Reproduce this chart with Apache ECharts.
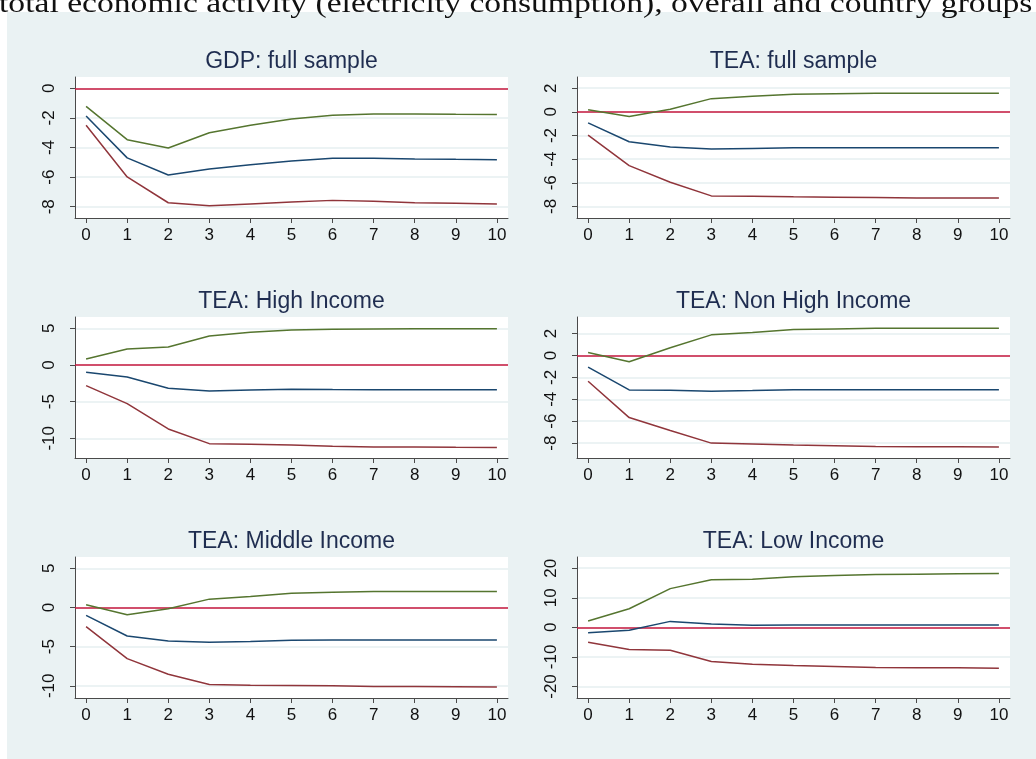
<!DOCTYPE html>
<html>
<head>
<meta charset="utf-8">
<script src="https://cdn.jsdelivr.net/npm/echarts@6/dist/echarts.min.js"></script>
<style>
  html, body { margin: 0; padding: 0; background: #fff; }
  #panel { position: absolute; left: 7px; top: 12px; right: 0; bottom: 0; background: #eaf2f3; }
  #chart { position: absolute; left: 0; top: 0; width: 1036px; height: 759px; }
</style>
</head>
<body>
<div id="panel"></div>
<div id="chart"></div>
<script>
const steps = [0, 1, 2, 3, 4, 5, 6, 7, 8, 9, 10]
const stepTicks = [0, 1, 2, 3, 4, 5, 6, 7, 8, 9, 10]

const panelTitles = ['GDP: full sample', 'TEA: full sample', 'TEA: High Income', 'TEA: Non High Income', 'TEA: Middle Income', 'TEA: Low Income']
const captionText = 'total economic activity (electricity consumption), overall and country groups'

// upper band / response / lower band per panel
const gdpFullUpper = [-1.22, -3.47, -4.03, -3.0, -2.5, -2.07, -1.82, -1.73, -1.73, -1.76, -1.78]
const gdpFullIrf = [-1.87, -4.7, -5.86, -5.45, -5.16, -4.91, -4.73, -4.73, -4.77, -4.8, -4.82]
const gdpFullLower = [-2.5, -5.99, -7.73, -7.93, -7.81, -7.68, -7.57, -7.63, -7.73, -7.77, -7.81]

const teaFullUpper = [0.17, -0.39, 0.22, 1.12, 1.32, 1.49, 1.54, 1.57, 1.57, 1.57, 1.57]
const teaFullIrf = [-0.93, -2.53, -2.98, -3.15, -3.09, -3.03, -3.03, -3.03, -3.03, -3.03, -3.03]
const teaFullLower = [-1.97, -4.55, -5.96, -7.11, -7.13, -7.19, -7.22, -7.25, -7.28, -7.28, -7.28]

const teaHighUpper = [0.82, 2.18, 2.45, 3.95, 4.45, 4.77, 4.86, 4.9, 4.95, 4.95, 4.95]
const teaHighIrf = [-1.0, -1.64, -3.18, -3.55, -3.41, -3.32, -3.36, -3.38, -3.38, -3.38, -3.38]
const teaHighLower = [-2.82, -5.27, -8.73, -10.73, -10.82, -10.91, -11.09, -11.18, -11.18, -11.23, -11.27]

const teaNonHighUpper = [0.27, -0.58, 0.7, 1.88, 2.09, 2.36, 2.42, 2.48, 2.48, 2.48, 2.48]
const teaNonHighIrf = [-1.06, -3.15, -3.18, -3.27, -3.21, -3.12, -3.12, -3.12, -3.12, -3.12, -3.12]
const teaNonHighLower = [-2.36, -5.67, -6.85, -8.0, -8.09, -8.18, -8.24, -8.3, -8.33, -8.33, -8.36]

const teaMiddleUpper = [0.34, -0.93, -0.17, 1.06, 1.4, 1.82, 1.95, 2.03, 2.03, 2.03, 2.03]
const teaMiddleIrf = [-1.02, -3.64, -4.28, -4.45, -4.36, -4.19, -4.15, -4.15, -4.15, -4.15, -4.15]
const teaMiddleLower = [-2.46, -6.53, -8.52, -9.83, -9.92, -9.96, -10.0, -10.08, -10.08, -10.13, -10.17]

const teaLowUpper = [2.13, 6.29, 13.1, 16.1, 16.3, 17.1, 17.5, 17.9, 18.0, 18.1, 18.2]
const teaLowIrf = [-1.8, -1.0, 2.02, 1.12, 0.67, 0.79, 0.79, 0.79, 0.79, 0.79, 0.79]
const teaLowLower = [-5.06, -7.53, -7.75, -11.57, -12.47, -12.92, -13.26, -13.6, -13.7, -13.7, -13.8]

const yTicks = [
  [-8, -6, -4, -2, 0],
  [-8, -6, -4, -2, 0, 2],
  [-10, -5, 0, 5],
  [-8, -6, -4, -2, 0, 2],
  [-10, -5, 0, 5],
  [-20, -10, 0, 10, 20]
]
const yRanges = [[-8.76, 0.76], [-8.98, 2.95], [-12.69, 6.54], [-9.36, 3.51], [-11.56, 6.44], [-23.9, 23.8]]
const xRange = [-0.27, 10.27]
const zeroLine = 0

const panelData = [
  [gdpFullUpper, gdpFullIrf, gdpFullLower],
  [teaFullUpper, teaFullIrf, teaFullLower],
  [teaHighUpper, teaHighIrf, teaHighLower],
  [teaNonHighUpper, teaNonHighIrf, teaNonHighLower],
  [teaMiddleUpper, teaMiddleIrf, teaMiddleLower],
  [teaLowUpper, teaLowIrf, teaLowLower]
]

const lineColors = ['#55752f', '#1a476f', '#90353b']
const font = '"Liberation Sans", Arial, Helvetica, sans-serif'

const chart = echarts.init(document.getElementById('chart'), null, { renderer: 'canvas' })

const grids = []
const xAxes = []
const yAxes = []
const series = []
const graphics = []

panelData.forEach((lines, p) => {
  const col = p % 2
  const row = Math.floor(p / 2)
  const left = col === 0 ? 75 : 577
  const top = 77 + row * 240
  grids.push({ left: left, top: top, width: 433, height: 141, show: true, backgroundColor: '#fff', borderWidth: 0 })

  xAxes.push({
    type: 'value',
    gridIndex: p,
    min: xRange[0],
    max: xRange[1],
    axisLine: { onZero: false, lineStyle: { color: '#4a4a4a', width: 1 } },
    axisTick: { customValues: stepTicks, length: 5, lineStyle: { color: '#4a4a4a' } },
    axisLabel: { customValues: stepTicks, color: '#111', fontSize: 17, fontFamily: font, margin: 9 },
    splitLine: { show: false }
  })

  yAxes.push({
    type: 'value',
    gridIndex: p,
    min: yRanges[p][0],
    max: yRanges[p][1],
    axisLine: { show: true, onZero: false, lineStyle: { color: '#4a4a4a', width: 1 } },
    axisTick: { show: true, customValues: yTicks[p], length: 5, lineStyle: { color: '#4a4a4a' } },
    axisLabel: { customValues: yTicks[p], rotate: 90, color: '#111', fontSize: 17, fontFamily: font, margin: 17 },
    splitLine: { show: true, lineStyle: { color: '#e6eff1', width: 1.5 } }
  })

  lines.forEach((vals, k) => {
    const s = {
      type: 'line',
      xAxisIndex: p,
      yAxisIndex: p,
      data: steps.map((x, i) => [x, vals[i]]),
      showSymbol: false,
      symbol: 'none',
      lineStyle: { color: lineColors[k], width: 1.5 },
      z: 3
    }
    if (k === 0) {
      s.markLine = {
        silent: true,
        symbol: 'none',
        label: { show: false },
        lineStyle: { color: '#c9183f', type: 'solid', width: 1.5 },
        data: [{ yAxis: zeroLine }],
        z: 2
      }
    }
    series.push(s)
  })

  graphics.push({
    type: 'text',
    x: left + 216.5,
    y: top - 15,
    style: { text: panelTitles[p], fill: '#1f2d50', font: '23px ' + font, align: 'center', verticalAlign: 'middle' }
  })
})

// caption cut off at the top edge, computer-modern look is wide, so stretch it
graphics.push({
  type: 'text',
  x: -1,
  y: 18,
  scaleX: 1.245,
  style: { text: captionText, fill: '#111', font: '27px "Liberation Serif", "DejaVu Serif", serif', align: 'left', verticalAlign: 'bottom' }
})

const option = {
  animation: false,
  backgroundColor: 'transparent',
  grid: grids,
  xAxis: xAxes,
  yAxis: yAxes,
  series: series,
  graphic: graphics
}

chart.setOption(option)
</script>
</body>
</html>
